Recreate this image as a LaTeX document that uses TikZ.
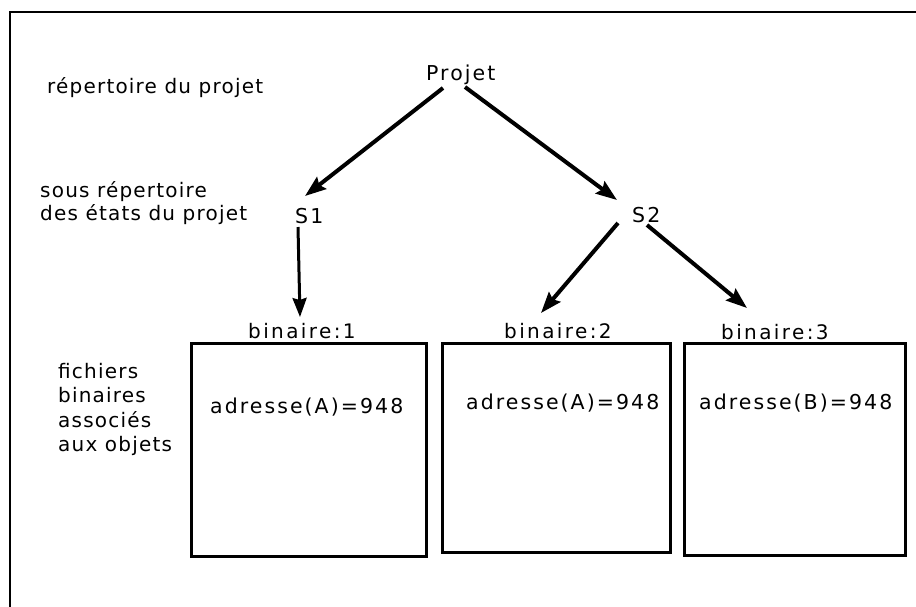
\documentclass[tikz,border=0pt]{standalone}
\usepackage{fontspec}
\setmainfont{DejaVu Sans}
\newfontfamily\lblfont[LetterSpace=6]{DejaVu Sans}
\newfontfamily\binfont[LetterSpace=12]{DejaVu Sans}
\newfontfamily\bigfont[LetterSpace=10]{DejaVu Sans}
\usetikzlibrary{arrows.meta,calc}
\tikzset{
  lbl/.style={inner sep=0pt, anchor=base west, font=\lblfont\fontsize{20}{24}\selectfont},
  binlbl/.style={inner sep=0pt, anchor=base west, font=\binfont\fontsize{20}{24}\selectfont},
  big/.style={inner sep=0pt, anchor=base west, font=\bigfont\fontsize{20.5}{24}\selectfont},
  filebox/.style={draw, line width=3pt, inner sep=0pt, anchor=north west},
  arr/.style={line width=4pt, -{Stealth[length=21pt,width=15pt,inset=3pt]}},
  arrthin/.style={line width=3pt, -{Stealth[length=19pt,width=14pt,inset=2pt]}},
}
\begin{document}
\begin{tikzpicture}[x=1pt,y=-1pt]
\useasboundingbox (0,0) rectangle (916,606);
\fill[white] (0,0) rectangle (916,606);
\begin{scope}
\clip (0,0) rectangle (916,606);
\draw[line width=2.5pt] (10,620) -- (10,12) -- (930,12);
\end{scope}
% left labels
\node[lbl] (l1) at (47,93) {répertoire du projet};
\node[lbl] (l2a) at (40,197) {sous répertoire};
\node[lbl] (l2b) at (40,220) {des états du projet};
\node[lbl] (l3a) at (58,378) {fichiers};
\node[lbl] (l3b) at (58,402) {binaires};
\node[lbl] (l3c) at (58,427) {associés};
\node[lbl] (l3d) at (58,451) {aux objets};
% tree
\node[big] (projet) at (426,80) {Projet};
\node[big] (s1) at (295,223) {S1};
\node[big] (s2) at (632,222) {S2};
\node[binlbl] (b1) at (248,338) {binaire:1};
\node[binlbl] (b2) at (504,338) {binaire:2};
\node[binlbl] (b3) at (721,339) {binaire:3};
% boxes
\node[filebox, minimum width=235pt, minimum height=213pt] (f1) at (190,342) {};
\node[filebox, minimum width=228pt, minimum height=209pt] (f2) at (441,342) {};
\node[filebox, minimum width=221pt, minimum height=212pt] (f3) at (683,342) {};
\node[big] (a1) at (210,413) {adresse(A)=948};
\node[big] (a2) at (466,409) {adresse(A)=948};
\node[big] (a3) at (699,409) {adresse(B)=948};
% connectors
\draw[arr] ($(projet.base west)+(17,8)$) -- ($(s1.base west)+(10,-27)$);
\draw[arr] ($(projet.base west)+(39,7)$) -- ($(s2.base west)+(-15,-22)$);
\draw[arrthin] ($(s1.base west)+(3,4)$) -- ($(b1.base west)+(52,-21)$);
\draw[arr] ($(s2.base west)+(-14,1)$) -- ($(b2.base west)+(37,-25)$);
\draw[arr] ($(s2.base west)+(15,3)$) -- ($(b3.base west)+(26,-31)$);
\end{tikzpicture}
\end{document}
